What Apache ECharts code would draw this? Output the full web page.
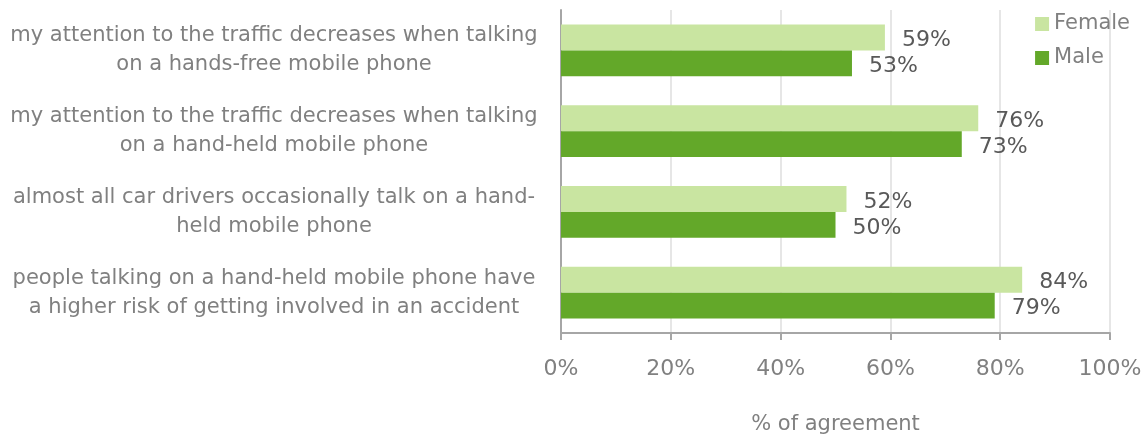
<!DOCTYPE html>
<html>
<head>
<meta charset="utf-8">
<script src="https://cdn.jsdelivr.net/npm/echarts@6/dist/echarts.min.js"></script>
<style>
  html, body { margin: 0; padding: 0; background: #fff; }
  #chart { width: 1145px; height: 436px; }
</style>
</head>
<body>
<div id="chart"></div>
<script>
// Statements, top to bottom
const statements = [
  'my attention to the traffic decreases when talking\non a hands-free mobile phone',
  'my attention to the traffic decreases when talking\non a hand-held mobile phone',
  'almost all car drivers occasionally talk on a hand-\nheld mobile phone',
  'people talking on a hand-held mobile phone have\na higher risk of getting involved in an accident'
];
// Share agreeing, in percent
const female = [59, 76, 52, 84];
const male = [53, 73, 50, 79];
const axisTitle = '% of agreement';

const FONT = 'DejaVu Sans';
const chart = echarts.init(document.getElementById('chart'), null, { renderer: 'canvas' });

const valueLabel = {
  show: true,
  position: 'right',
  distance: 17,
  offset: [0, 3],
  formatter: '{c}%',
  color: '#595959',
  fontFamily: FONT,
  fontSize: 22
};

chart.setOption({
  animation: false,
  textStyle: { fontFamily: FONT },
  grid: {
    left: 561, right: 35, top: 10, bottom: 103,
    containLabel: false,
    outerBoundsMode: 'none'
  },
  legend: {
    orient: 'vertical',
    right: 15,
    top: 13,
    padding: 0,
    itemWidth: 14,
    itemHeight: 14,
    itemGap: 12,
    icon: 'rect',
    textStyle: { color: '#808080', fontFamily: FONT, fontSize: 21, lineHeight: 22 },
    data: ['Female', 'Male']
  },
  xAxis: {
    type: 'value',
    min: 0,
    max: 100,
    interval: 20,
    name: axisTitle,
    nameLocation: 'middle',
    nameGap: 81,
    nameTextStyle: { color: '#808080', fontFamily: FONT, fontSize: 21 },
    axisLine: { show: true, lineStyle: { color: '#A6A6A6', width: 2 } },
    axisTick: { show: true, length: 7, lineStyle: { color: '#A6A6A6', width: 2 } },
    axisLabel: { formatter: '{value}%', color: '#808080', fontFamily: FONT, fontSize: 22, margin: 25 },
    splitLine: { show: true, lineStyle: { color: '#E6E6E6', width: 2 } }
  },
  yAxis: {
    type: 'category',
    inverse: true,
    data: statements,
    axisLine: { show: true, lineStyle: { color: '#A6A6A6', width: 2 } },
    axisTick: { show: false },
    axisLabel: {
      color: '#808080',
      fontFamily: FONT,
      fontSize: 21,
      lineHeight: 29,
      align: 'center',
      padding: [6, 0, 0, 0],
      margin: 287
    }
  },
  series: [
    {
      name: 'Female',
      type: 'bar',
      data: female,
      itemStyle: { color: '#C9E5A1' },
      barGap: '0%',
      barCategoryGap: '36%',
      label: valueLabel
    },
    {
      name: 'Male',
      type: 'bar',
      data: male,
      itemStyle: { color: '#63A829' },
      barGap: '0%',
      barCategoryGap: '36%',
      label: valueLabel
    }
  ]
});
</script>
</body>
</html>
